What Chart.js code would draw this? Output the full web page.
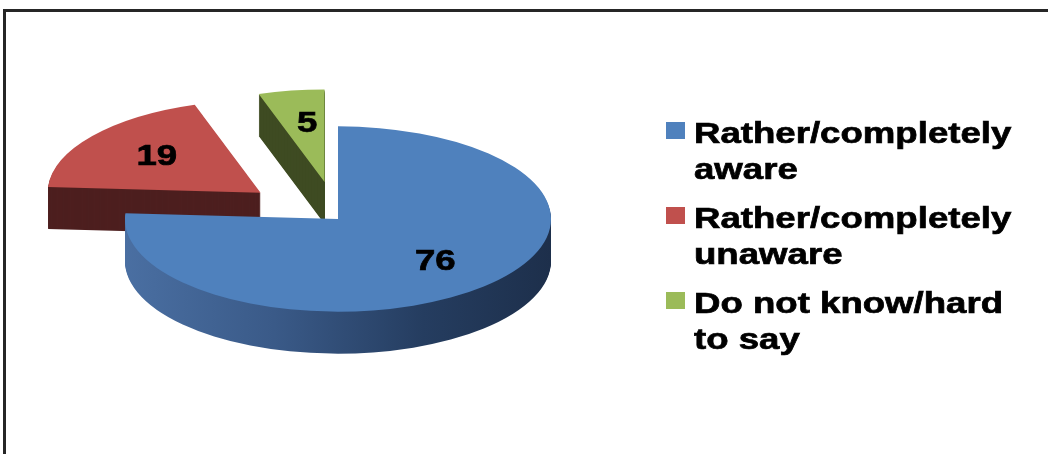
<!DOCTYPE html>
<html><head><meta charset="utf-8">
<script src="https://cdn.jsdelivr.net/npm/chart.js@4/dist/chart.umd.min.js"></script>
<style>
html,body{margin:0;padding:0;background:#fff;}
#wrap{position:relative;width:1048px;height:454px;overflow:hidden;background:#fff;}
#frame{position:absolute;left:3px;top:9px;width:1200px;height:600px;border-left:3px solid #262626;border-top:3px solid #262626;}
canvas{position:absolute;left:0;top:0;}
</style></head><body>
<div id="wrap"><div id="frame"></div><canvas id="c" width="1048" height="454"></canvas></div>
<script>
// ---- data ----
const categories = ["Rather/completely aware", "Rather/completely unaware", "Do not know/hard to say"];
const values = [76, 19, 5];

// ---- style ----
const topColors = ["#4f81bd", "#c0504d", "#9bbb59"];
const sideColors = [null, "#4d1f1f", "#3e4b22"];
const explodeOffsets = [0, 98, 86];
const TILT = 0.435;      // vertical squash of the pie
const DEPTH = 42;        // extrusion depth in px
const SCREEN_CY = 219;   // screen y of the pie centre
const TEXT_SX = 1.22;    // horizontal stretch of the text
const FONT = 'bold 30px "Liberation Sans", Arial, sans-serif';

function drawText(ctx, txt, x, y) {
  ctx.save();
  ctx.translate(x, y);
  ctx.scale(TEXT_SX, 1);
  ctx.fillText(txt, 0, 0);
  ctx.strokeText(txt, 0, 0);
  ctx.restore();
}

const pie3d = {
  id: 'pie3d',
  beforeDatasetsDraw(chart) {
    const ctx = chart.ctx;
    const arcs = chart.getDatasetMeta(0).data;
    const cx = arcs[0].x, cy = arcs[0].y;
    const blueGrad = ctx.createLinearGradient(cx - arcs[0].outerRadius, 0, cx + arcs[0].outerRadius, 0);
    blueGrad.addColorStop(0, '#4a6fa2');
    blueGrad.addColorStop(0.35, '#3a5a88');
    blueGrad.addColorStop(0.7, '#253d60');
    blueGrad.addColorStop(1, '#1d2f4b');
    const order = arcs.map((a, i) => i).sort((a, b) => {
      const ma = (arcs[a].startAngle + arcs[a].endAngle) / 2;
      const mb = (arcs[b].startAngle + arcs[b].endAngle) / 2;
      return Math.sin(ma) - Math.sin(mb);
    });
    for (const i of order) {
      const el = arcs[i];
      const saved = el.options;
      const off = saved.offset || 0;
      const mid = (el.startAngle + el.endAngle) / 2;
      const ox = Math.cos(mid) * off, oy = Math.sin(mid) * off;
      const side = i === 0 ? blueGrad : sideColors[i];
      el.options = Object.assign({}, saved, {offset: 0, backgroundColor: side, borderWidth: 0});
      for (let d = DEPTH; d >= 1; d--) {
        ctx.save();
        ctx.translate(cx, SCREEN_CY + d);
        ctx.scale(1, TILT);
        ctx.translate(-cx + ox, -cy + oy);
        el.draw(ctx);
        ctx.restore();
      }
      el.options = Object.assign({}, saved, {offset: 0, borderWidth: 0});
      ctx.save();
      ctx.translate(cx, SCREEN_CY);
      ctx.scale(1, TILT);
      ctx.translate(-cx + ox, -cy + oy);
      el.draw(ctx);
      ctx.restore();
      el.options = saved;
    }
    return false;
  },
  afterDraw(chart) {
    const ctx = chart.ctx;
    const arcs = chart.getDatasetMeta(0).data;
    const ds = chart.data.datasets[0];
    const cx = arcs[0].x;
    ctx.save();
    ctx.font = FONT;
    ctx.fillStyle = '#000';
    ctx.strokeStyle = '#000';
    ctx.lineWidth = 0.7;
    ctx.textAlign = 'center';
    ctx.textBaseline = 'middle';
    arcs.forEach((el, i) => {
      const mid = (el.startAngle + el.endAngle) / 2;
      const rr = (el.options.offset || 0) + el.outerRadius * 0.64;
      const x = cx + Math.cos(mid) * rr + 4;
      const y = SCREEN_CY + Math.sin(mid) * rr * TILT;
      drawText(ctx, String(ds.data[i]), x, y);
    });
    // legend
    ctx.textAlign = 'left';
    ctx.textBaseline = 'alphabetic';
    const maxW = 340;
    chart.data.labels.forEach((lab, i) => {
      const words = lab.split(' ');
      const lines = [];
      let cur = '';
      for (const w of words) {
        const t = cur ? cur + ' ' + w : w;
        if (cur && ctx.measureText(t).width * TEXT_SX > maxW) { lines.push(cur); cur = w; }
        else cur = t;
      }
      if (cur) lines.push(cur);
      const base = 143 + i * 85;
      ctx.fillStyle = topColors[i];
      ctx.fillRect(666, base - 21, 19, 17);
      ctx.fillStyle = '#000';
      lines.forEach((ln, j) => drawText(ctx, ln, 694, base + j * 36));
    });
    ctx.restore();
  }
};

new Chart(document.getElementById('c'), {
  type: 'pie',
  data: {
    labels: categories,
    datasets: [{
      data: values,
      backgroundColor: topColors,
      borderWidth: 0,
      offset: explodeOffsets,
      radius: 213
    }]
  },
  options: {
    responsive: false,
    animation: false,
    layout: {padding: {left: 0, right: 372, top: 0, bottom: 0}},
    plugins: {legend: {display: false}, tooltip: {enabled: false}}
  },
  plugins: [pie3d]
});
</script>
</body></html>
